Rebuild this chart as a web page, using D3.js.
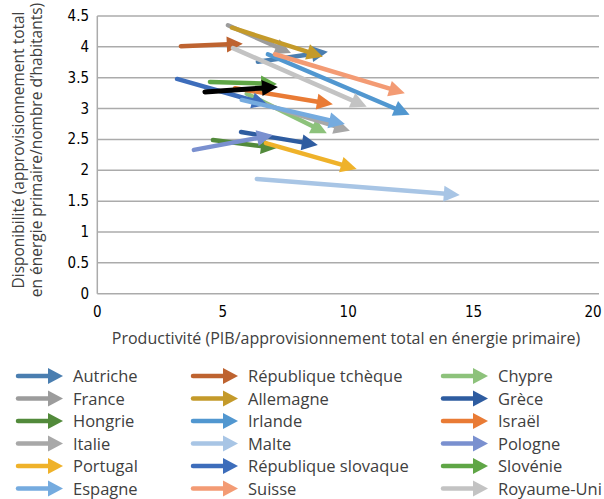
<!DOCTYPE html>
<html>
<head>
<meta charset="utf-8">
<script src="https://cdn.jsdelivr.net/npm/d3@7"></script>
<style>
  html, body { margin: 0; padding: 0; background: #fff; }
  svg { display: block; }
</style>
</head>
<body>
<svg id="chart" width="604" height="499"></svg>
<script>
// Pays (ordre des séries)
const countries = [
  "Autriche", "République tchèque", "Chypre",
  "France", "Allemagne", "Grèce",
  "Hongrie", "Irlande", "Israël",
  "Italie", "Malte", "Pologne",
  "Portugal", "République slovaque", "Slovénie",
  "Espagne", "Suisse", "Royaume-Uni",
  "Moyenne"
];
// Productivité : début et fin de période
const prodStart = [6.40, 3.33, 5.96, 5.21, 5.37, 5.73, 4.61, 6.80, 5.49, 6.08, 6.36, 3.85, 6.72, 3.18, 4.49, 5.76, 7.08, 5.41, 4.29];
const prodEnd   = [9.19, 5.80, 9.15, 7.72, 8.99, 8.79, 7.16, 12.45, 9.39, 10.07, 14.45, 7.00, 10.34, 6.80, 7.16, 9.87, 12.26, 10.74, 7.20];
// Disponibilité : début et fin de période
const dispoStart = [3.76, 4.01, 3.24, 4.35, 4.31, 2.62, 2.49, 3.88, 3.33, 3.14, 1.86, 2.33, 2.44, 3.48, 3.43, 3.14, 3.88, 3.98, 3.27];
const dispoEnd   = [3.92, 4.05, 2.60, 3.90, 3.84, 2.41, 2.36, 2.90, 3.07, 2.64, 1.60, 2.57, 2.02, 3.06, 3.40, 2.75, 3.25, 3.03, 3.35];
// Couleurs des séries
const colors = [
  "#4A7EB0", "#BE6330", "#8DC27B",
  "#9C9C9C", "#C49A2A", "#2E5CA0",
  "#528A3B", "#5197D0", "#E97B35",
  "#A8A8A8", "#A8C5E5", "#7A90CF",
  "#EFB22A", "#3D6DBB", "#5FA646",
  "#75ABDF", "#F39B74", "#C3C3C3",
  "#000000"
];
const inLegend = countries.map((c, i) => i < 18);

const xTicks = [0, 5, 10, 15, 20];
const yTicks = [0, 0.5, 1, 1.5, 2, 2.5, 3, 3.5, 4, 4.5];

const svg = d3.select("#chart");
svg.append("rect").attr("width", 604).attr("height", 499).attr("fill", "#fff");

const x = d3.scaleLinear().domain([0, 20]).range([97.3, 599]);
const y = d3.scaleLinear().domain([0, 4.5]).range([293.7, 16]);

const textColor = "#404040";
const gridColor = "#ABABAB";

// Grille horizontale
svg.append("g")
  .selectAll("line")
  .data(yTicks)
  .join("line")
  .attr("x1", x(0)).attr("x2", x(20))
  .attr("y1", d => y(d)).attr("y2", d => y(d))
  .attr("stroke", gridColor).attr("stroke-width", 1.5);

// Axe vertical
svg.append("line")
  .attr("x1", x(0)).attr("x2", x(0))
  .attr("y1", y(0)).attr("y2", y(4.5))
  .attr("stroke", gridColor).attr("stroke-width", 1.5);

// Étiquettes des axes
const tickFont = "'Liberation Sans Narrow', 'DejaVu Sans Condensed', sans-serif";
svg.append("g")
  .selectAll("text")
  .data(yTicks)
  .join("text")
  .attr("x", 89)
  .attr("y", d => y(d) + 5)
  .attr("text-anchor", "end")
  .attr("font-family", tickFont)
  .attr("font-size", 15)
  .attr("fill", "#000")
  .text(d => d);

svg.append("g")
  .selectAll("text")
  .data(xTicks)
  .join("text")
  .attr("x", d => Math.min(x(d), 593))
  .attr("y", 317)
  .attr("text-anchor", "middle")
  .attr("font-family", tickFont)
  .attr("font-size", 15)
  .attr("fill", "#000")
  .text(d => d);

const labelFont = "'Open Sans', 'Noto Sans', sans-serif";
svg.append("text")
  .attr("x", 346).attr("y", 344)
  .attr("text-anchor", "middle")
  .attr("font-family", labelFont)
  .attr("font-size", 16)
  .attr("fill", textColor)
  .text("Productivité (PIB/approvisionnement total en énergie primaire)");

const yTitle = svg.append("g").attr("transform", "translate(0,150) rotate(-90)");
yTitle.append("text")
  .attr("x", 0).attr("y", 24)
  .attr("text-anchor", "middle")
  .attr("font-family", labelFont)
  .attr("font-size", 15.5)
  .attr("fill", textColor)
  .text("Disponibilité (approvisionnement total");
yTitle.append("text")
  .attr("x", 0).attr("y", 42)
  .attr("text-anchor", "middle")
  .attr("font-family", labelFont)
  .attr("font-size", 15.5)
  .attr("fill", textColor)
  .text("en énergie primaire/nombre d’habitants)");

// Flèche : trait + pointe triangulaire
function arrow(g, x1, y1, x2, y2, color, lw, len, half) {
  const a = Math.atan2(y2 - y1, x2 - x1);
  const bx = x2 - len * Math.cos(a), by = y2 - len * Math.sin(a);
  g.append("line")
    .attr("x1", x1).attr("y1", y1)
    .attr("x2", x2 - (len - 2) * Math.cos(a)).attr("y2", y2 - (len - 2) * Math.sin(a))
    .attr("stroke", color).attr("stroke-width", lw)
    .attr("stroke-linecap", "round");
  const px = -Math.sin(a), py = Math.cos(a);
  g.append("path")
    .attr("d", `M${x2},${y2}L${bx + half * px},${by + half * py}L${bx - half * px},${by - half * py}Z`)
    .attr("fill", color);
}

const plot = svg.append("g");
countries.forEach((c, i) => {
  arrow(plot, x(prodStart[i]), y(dispoStart[i]), x(prodEnd[i]), y(dispoEnd[i]),
        colors[i], i === 18 ? 5 : 4.5, 16, 8);
});

// Légende en trois colonnes
const legendCols = [18, 193, 443];
const legendRowY = [376, 398.5, 421, 443.5, 466, 488.5];
const legend = svg.append("g");
countries.forEach((c, i) => {
  if (!inLegend[i]) return;
  const col = i % 3, row = Math.floor(i / 3);
  const lx = legendCols[col], ly = legendRowY[row];
  arrow(legend, lx, ly, lx + 45, ly, colors[i], 4.5, 15, 8);
  legend.append("text")
    .attr("x", lx + 55).attr("y", ly + 6)
    .attr("font-family", labelFont)
    .attr("font-size", 16.5)
    .attr("fill", textColor)
    .text(c);
});
</script>
</body>
</html>
